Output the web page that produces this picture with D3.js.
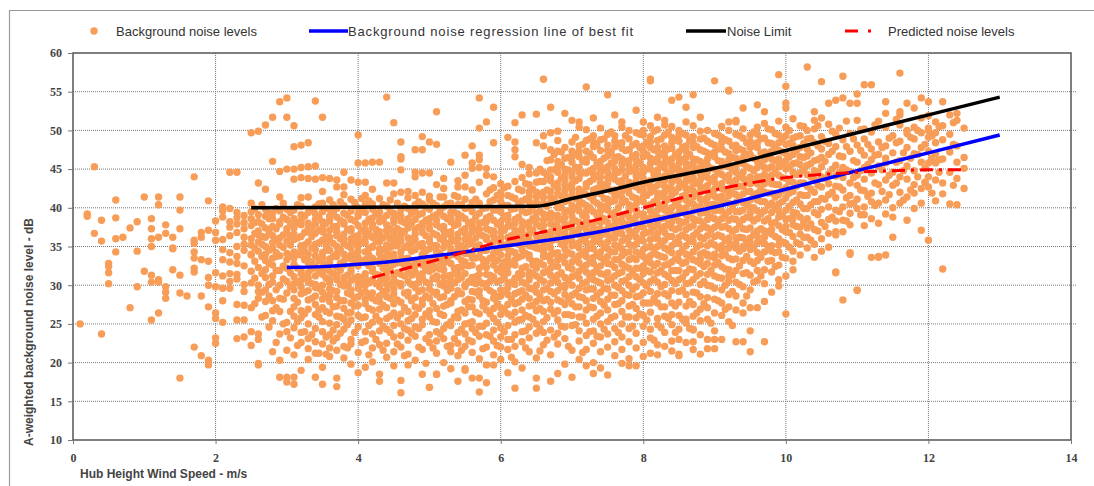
<!DOCTYPE html>
<html>
<head>
<meta charset="utf-8">
<script src="https://cdn.jsdelivr.net/npm/d3@7"></script>
<style>
  body { margin: 0; background: #fff; }
  svg { display: block; }
</style>
</head>
<body>
<script>
// scatter: each entry is [wind speed, "noise levels at that speed"]
const noiseColumns = [
  [0.1, "25.0"], [0.2, "39.2 38.9"], [0.3, "45.3 36.7"], [0.4, "23.7 38.4 35.7"],
  [0.5, "32.4 31.6 30.2 32.8"], [0.6, "38.7 34.3 36.0 41.0"], [0.7, "36.2"], [0.8, "37.4 27.1"],
  [0.9, "38.2 34.4 29.8"], [1.0, "41.4 31.8"], [1.1, "38.6 36.0 37.3 35.0 31.3 30.4 25.5"],
  [1.2, "41.4 40.4 36.2 30.7 26.4 30.4"], [1.3, "37.8 36.7 28.3 29.8 29.1"], [1.4, "36.2 34.7 34.8 32.0"],
  [1.5, "31.3 39.7 41.4 37.3 29.0 18.0"], [1.6, "28.6"], [1.7, "44.0 35.8 34.3 33.5 31.7 32.2 35.4 22.0"],
  [1.8, "36.8 36.2 33.3 20.9 28.6"], [1.9, "37.1 31.0 33.1 40.9 20.3 19.7 27.2 30.0"],
  [2.0, "38.3 36.8 35.8 31.6 26.4 25.7 22.5 23.2 29.8"],
  [2.1, "29.6 28.0 25.2 33.3 35.9 38.8 39.6 31.2 34.6 40.1"],
  [2.2, "29.6 37.5 36.4 33.0 31.5 39.9 44.6 30.5 34.2 38.2"],
  [2.3, "27.5 25.5 23.1 44.6 35.0 36.8 38.7 32.8 30.8 33.7 37.9 39.4 31.4"],
  [2.4, "25.5 23.3 27.4 38.1 36.2 34.5 32.5 30.1 39.0 35.3 37.3 29.2"],
  [2.5, "24.0 27.1 22.2 49.7 40.6 38.6 36.0 33.9 31.8 35.2 37.7 30.3 39.5 34.0"],
  [2.6, "49.9 28.3 29.2 23.7 23.0 19.9 19.7 43.2 38.2 36.5 34.4 32.3 30.0 37.0 35.6 39.1"],
  [2.7, "50.7 42.4 29.4 39.8 37.4 35.0 33.2 31.0 36.2 38.9 32.0 34.0 27.9 26.1"],
  [2.8, "46.0 21.4 25.4 26.7 28.0 38.6 36.4 34.8 32.6 30.4 37.6 33.5 39.3 35.5 31.2 51.7"],
  [2.9, "53.7 44.7 41.4 20.3 18.1 23.7 28.3 38.2 36.1 33.8 31.9 30.0 35.2 37.9 39.6 26.6"],
  [3.0, "54.2 51.7 45.0 17.5 21.6 24.0 25.2 29.0 38.5 36.8 34.1 32.2 30.5 35.7 33.3 37.3 39.8 18.1"],
  [3.1, "50.6 47.9 45.0 43.7 26.0 17.2 18.1 21.0 24.5 27.2 29.4 31.1 32.7 34.3 35.9 37.4 38.6 39.7 36.6 33.5 30.2 28.3"],
  [3.2, "48.1 45.2 43.9 41.3 19.0 22.6 25.8 28.9 30.6 32.0 33.9 35.1 36.3 37.8 39.1 40.2 31.5 34.7 38.3 26.7 29.8 23.9"],
  [3.3, "48.4 45.3 43.8 41.4 20.4 23.1 26.9 28.1 30.4 31.6 32.9 34.0 35.6 36.9 38.0 39.4 37.3 33.2 30.9 25.0 29.3 21.8"],
  [3.4, "53.8 45.4 43.7 18.1 21.2 24.4 27.5 29.7 31.2 32.4 33.8 35.3 36.7 37.9 39.2 40.1 38.5 34.6 30.1 26.2 28.6 22.7"],
  [3.5, "51.7 43.9 17.2 19.4 22.4 25.3 28.2 30.0 31.4 33.0 34.2 35.8 36.9 38.2 39.5 37.4 33.6 31.9 27.1 24.0 29.1 40.6 42.1"],
  [3.6, "43.8 41.0 20.8 23.6 26.4 28.7 30.3 31.8 32.9 34.5 35.7 37.1 38.4 39.8 36.2 33.4 30.8 27.9 25.1 29.5 21.9 38.9"],
  [3.7, "43.6 18.0 16.9 42.7 21.6 24.9 27.3 29.2 30.7 32.3 33.7 35.0 36.4 37.6 38.8 39.9 34.1 31.3 28.4 26.0 36.9 23.2"],
  [3.8, "44.6 42.7 41.7 22.1 25.6 28.0 29.9 31.0 32.6 34.0 35.4 36.6 37.9 39.3 40.3 33.1 30.5 27.0 24.3 38.1 35.9 20.6"],
  [3.9, "43.6 41.1 19.8 23.0 26.5 28.8 30.6 32.1 33.4 34.8 36.0 37.3 38.5 39.6 35.4 31.7 29.4 25.5 22.4 37.0 33.9 27.7"],
  [4.0, "49.4 18.7 45.8 43.3 21.3 24.6 27.4 29.6 31.1 32.5 33.6 35.1 36.4 37.7 38.9 40.0 34.4 30.3 28.5 26.1 39.2 35.8 32.8"],
  [4.1, "19.4 45.8 43.3 22.8 25.9 28.2 30.0 31.5 32.9 34.3 35.5 36.8 38.0 39.4 40.4 37.2 33.3 30.9 27.6 24.0 36.1 29.2 41.6"],
  [4.2, "45.9 42.4 20.1 23.7 26.8 29.0 30.7 32.2 33.5 34.9 36.2 37.5 38.7 39.8 35.0 31.8 28.3 25.2 37.9 33.0 21.9 40.5"],
  [4.3, "45.9 18.5 17.6 22.3 25.4 27.9 29.8 31.3 32.8 34.1 35.6 36.9 38.2 39.5 36.3 33.2 30.4 26.9 24.1 38.8 34.7 41.2 28.6"],
  [4.4, "54.3 43.2 20.7 24.3 27.1 29.3 30.9 32.4 33.8 35.2 36.5 37.8 39.0 40.2 34.6 31.6 28.5 25.7 22.5 37.1 33.1 30.1"],
  [4.5, "51.0 43.2 21.4 24.8 27.6 29.5 31.2 32.7 34.0 35.5 36.7 38.1 39.3 36.0 33.4 30.6 26.4 23.3 38.6 35.1 28.9 41.8 19.6"],
  [4.6, "48.5 46.6 46.3 44.9 17.7 16.1 22.0 25.0 27.8 29.9 31.4 32.9 34.3 35.7 37.0 38.3 39.7 36.4 33.6 30.2 26.3 23.5 38.9 42.0"],
  [4.7, "42.1 19.7 21.1 24.2 26.6 28.6 30.5 32.0 33.5 34.9 36.1 37.4 38.6 39.9 35.2 31.9 29.1 25.4 22.9 37.6 33.0 41.3"],
  [4.8, "47.5 44.6 44.0 41.6 20.3 23.4 26.2 28.4 30.1 31.7 33.2 34.6 35.9 37.2 38.5 39.6 36.6 32.5 29.7 27.2 24.6 40.4"],
  [4.9, "18.5 49.2 47.5 44.5 42.0 21.7 24.9 27.5 29.4 31.0 32.6 34.0 35.4 36.8 38.0 39.3 40.5 34.9 31.5 28.1 25.6 37.5 33.7"],
  [5.0, "48.5 44.5 16.8 16.8 41.5 22.6 25.9 28.3 30.2 31.8 33.3 34.7 36.0 37.3 38.6 39.8 35.6 32.4 29.5 26.7 23.6 37.9 41.0"],
  [5.1, "48.2 52.4 18.5 18.5 43.0 21.2 24.0 27.0 29.1 30.8 32.3 33.8 35.1 36.5 37.8 39.1 40.3 34.4 31.2 28.8 25.2 38.4 22.8"],
  [5.2, "43.8 41.4 20.0 23.1 26.1 28.5 30.4 32.0 33.5 34.9 36.3 37.6 38.9 40.1 35.7 32.8 29.9 27.3 24.4 37.1 31.1 42.5"],
  [5.3, "45.9 19.2 22.2 25.3 27.7 29.6 31.3 32.8 34.2 35.6 36.9 38.2 39.4 40.6 33.9 30.6 28.0 24.8 36.4 21.4 38.8 34.7"],
  [5.4, "42.7 41.4 17.6 20.9 23.9 26.6 28.9 30.7 32.3 33.7 35.2 36.6 37.9 39.2 40.4 34.5 31.6 29.3 25.8 22.5 38.4 36.0 43.5"],
  [5.5, "46.8 44.2 42.7 19.2 19.0 22.1 25.0 27.9 29.8 31.5 33.0 34.5 35.9 37.3 38.6 39.9 36.7 32.6 30.1 26.4 23.7 41.1 34.1"],
  [5.6, "48.0 45.8 45.1 18.0 21.3 24.4 27.2 29.2 31.0 32.6 34.1 35.5 36.9 38.2 39.5 40.7 33.5 30.4 28.1 25.3 37.6 22.7 42.3"],
  [5.7, "54.2 50.3 46.8 46.2 45.2 18.0 16.2 20.5 23.4 26.3 28.6 30.5 32.2 33.7 35.2 36.6 38.0 39.3 40.6 34.6 31.4 29.3 24.7 37.2 43.3"],
  [5.8, "51.1 45.1 44.2 17.4 19.7 22.0 25.1 27.8 29.7 31.4 33.0 34.5 35.9 37.3 38.7 40.0 36.2 32.3 30.2 26.8 23.6 41.8 38.2"],
  [5.9, "53.0 48.4 44.0 19.7 21.0 24.2 27.0 29.0 30.9 32.6 34.1 35.6 37.0 38.4 39.7 41.0 33.4 31.1 28.3 25.7 36.4 22.8 42.6"],
  [6.0, "43.1 41.5 20.4 23.3 26.2 28.6 30.6 32.3 33.9 35.4 36.8 38.2 39.5 40.8 34.8 31.7 29.4 27.1 24.5 37.6 22.0 42.0 36.1"],
  [6.1, "49.1 18.7 21.7 24.8 27.5 29.7 31.6 33.2 34.7 36.2 37.6 39.0 40.3 41.6 35.4 32.4 30.3 26.3 23.0 38.4 42.8 33.8 28.8"],
  [6.2, "48.5 51.0 16.7 47.5 46.6 20.1 23.6 26.5 28.9 30.9 32.6 34.2 35.7 37.1 38.5 39.9 41.2 36.4 33.3 30.1 27.6 25.2 43.4 38.0 22.1"],
  [6.3, "52.0 45.6 19.3 22.7 25.6 28.2 30.4 32.2 33.8 35.3 36.8 38.2 39.6 40.9 42.2 34.6 31.4 29.3 26.8 24.0 37.5 43.9 35.9"],
  [6.4, "45.2 44.4 21.4 24.6 27.3 29.6 31.7 33.5 35.1 36.6 38.1 39.5 40.8 42.1 33.9 30.7 28.3 25.9 23.2 37.4 41.5 35.8 31.2 43.0"],
  [6.5, "52.1 48.4 18.0 16.7 20.6 23.8 26.7 29.1 31.2 33.1 34.8 36.4 37.9 39.3 40.7 42.0 43.3 35.6 32.2 30.0 27.9 25.0 38.6 41.4 44.5"],
  [6.6, "56.6 48.0 49.3 22.3 25.3 28.0 30.5 32.6 34.4 36.1 37.7 39.2 40.6 42.0 43.4 35.3 31.6 29.4 26.6 23.9 38.4 41.3 44.6 33.7 36.9"],
  [6.7, "53.0 49.7 17.6 21.0 24.2 26.9 29.2 31.3 33.1 34.8 36.4 37.9 39.3 40.7 42.1 43.5 44.9 46.2 35.6 32.2 30.3 27.8 38.6 41.4 44.0 47.5 36.9 33.9"],
  [6.8, "49.9 48.7 18.6 22.4 25.5 28.1 30.4 32.4 34.2 35.9 37.5 39.0 40.4 41.8 43.2 44.6 46.0 47.3 36.7 33.3 31.3 26.7 23.8 38.3 42.5 45.3 29.3 40.0"],
  [6.9, "52.2 19.8 23.1 26.2 28.8 31.0 32.9 34.7 36.3 37.9 39.4 40.8 42.2 43.6 45.0 46.4 35.5 33.8 30.0 27.5 24.6 38.7 41.5 44.3 47.8 36.9 29.7 42.9"],
  [7.0, "51.3 18.1 21.6 24.8 27.6 30.0 32.1 34.0 35.7 37.3 38.9 40.3 41.7 43.1 44.5 45.9 47.3 36.5 33.0 31.1 28.7 26.1 39.6 42.4 46.6 35.1 38.1 44.0 48.5"],
  [7.1, "51.1 50.4 22.8 25.9 28.5 30.9 32.9 34.8 36.5 38.1 39.6 41.0 42.4 43.8 45.2 46.6 48.0 35.5 33.8 31.8 29.6 27.2 24.1 40.3 37.3 44.6 47.3 42.0 20.4"],
  [7.2, "55.6 19.6 23.5 26.8 29.4 31.7 33.7 35.5 37.2 38.8 40.3 41.7 43.1 44.5 45.9 47.3 48.7 36.3 34.5 32.6 30.4 28.0 25.1 39.5 42.7 46.3 50.1 38.2 21.7"],
  [7.3, "20.0 18.6 22.5 25.6 28.3 30.7 32.8 34.7 36.4 38.0 39.5 40.9 42.3 43.7 45.1 46.5 47.9 49.3 35.6 33.6 31.6 29.5 27.1 24.1 37.3 41.6 44.4 48.5 51.6"],
  [7.4, "19.3 23.3 26.4 29.1 31.5 33.6 35.5 37.2 38.8 40.3 41.8 43.2 44.6 46.0 47.4 48.8 36.4 34.3 32.5 30.3 27.9 25.0 39.6 42.5 45.3 50.3 38.1 21.4 44.0"],
  [7.5, "54.6 18.4 22.0 25.3 28.2 30.6 32.8 34.7 36.5 38.1 39.7 41.1 42.5 43.9 45.3 46.7 48.1 49.5 35.6 33.7 31.6 29.5 26.8 23.7 40.4 43.2 37.3 44.6 47.4"],
  [7.6, "52.0 20.9 24.4 27.5 30.0 32.3 34.3 36.1 37.8 39.4 40.9 42.3 43.7 45.1 46.5 47.9 49.3 35.2 33.3 31.2 28.7 26.0 38.6 41.6 44.4 48.6 36.9 22.7 46.0"],
  [7.7, "51.1 50.4 48.4 19.9 23.3 26.6 29.3 31.7 33.8 35.7 37.5 39.1 40.6 42.1 43.5 44.9 46.3 47.7 36.6 34.7 32.7 30.5 28.0 25.0 38.3 41.3 45.6 43.0 21.7"],
  [7.8, "47.5 20.5 19.6 22.7 25.9 28.7 31.1 33.3 35.3 37.1 38.8 40.4 41.9 43.3 44.7 46.1 47.5 48.9 36.2 34.3 32.2 30.0 27.3 24.4 39.6 42.6 45.4 37.9 50.0"],
  [7.9, "52.6 19.6 23.8 27.0 29.8 32.2 34.3 36.2 38.0 39.7 41.2 42.7 44.1 45.5 46.9 48.3 49.7 35.3 33.3 31.1 28.5 25.8 37.1 40.5 43.4 46.2 38.9 21.9 44.8"],
  [8.0, "51.1 50.0 22.6 26.1 29.0 31.5 33.7 35.7 37.5 39.2 40.8 42.3 43.8 45.2 46.6 48.0 49.4 36.6 34.6 32.5 30.3 27.7 24.7 41.5 38.4 44.6 47.3 43.0 20.8"],
  [8.1, "56.6 56.4 21.2 24.3 27.7 30.5 32.9 35.0 36.9 38.7 40.4 42.0 43.5 45.0 46.4 47.8 49.2 50.6 35.9 33.8 31.7 29.2 26.5 39.6 42.7 45.7 48.5 37.8 23.2"],
  [8.2, "51.7 21.0 22.3 25.7 28.9 31.6 33.9 36.0 37.9 39.7 41.3 42.9 44.4 45.9 47.3 48.7 50.1 35.0 32.8 30.4 27.7 24.9 38.8 41.9 44.9 47.8 36.7 40.6 46.4"],
  [8.3, "51.3 23.9 27.2 30.1 32.6 34.8 36.8 38.7 40.4 42.0 43.6 45.1 46.6 48.0 49.4 35.8 33.6 31.4 28.9 26.0 39.7 42.8 45.8 37.6 44.1 22.1 50.7 41.2 47.2"],
  [8.4, "53.9 22.8 26.2 29.3 31.9 34.2 36.3 38.2 40.0 41.7 43.3 44.8 46.3 47.7 49.1 50.5 35.1 33.0 30.6 27.7 24.9 39.1 42.4 45.5 48.4 37.4 44.0 21.5"],
  [8.5, "54.3 20.9 21.1 24.3 27.8 30.7 33.2 35.4 37.4 39.3 41.0 42.6 44.2 45.7 47.2 48.6 50.0 36.2 34.1 31.9 29.2 26.1 40.1 43.4 46.4 38.3 44.9 49.4 23.0"],
  [8.6, "53.0 25.1 25.6 28.8 31.6 34.0 36.2 38.2 40.0 41.7 43.4 45.0 46.5 48.0 49.4 35.1 33.0 30.2 27.3 39.1 42.5 45.7 37.2 44.1 47.3 22.6 41.0 51.1"],
  [8.7, "54.6 21.7 22.7 24.2 24.3 27.5 30.7 33.3 35.6 37.7 39.6 41.4 43.1 44.7 46.3 47.8 49.2 36.4 34.3 32.0 29.1 26.0 40.5 43.9 38.6 45.5 42.2 50.6 48.4"],
  [8.8, "51.7 21.1 23.6 26.9 30.1 32.8 35.2 37.3 39.3 41.1 42.8 44.4 46.0 47.5 48.9 36.2 34.0 31.5 28.5 25.4 40.2 43.6 38.3 45.2 42.0 33.4 49.9"],
  [8.9, "23.0 25.6 21.8 28.4 31.4 34.0 36.4 38.5 40.4 42.2 43.9 45.5 47.1 48.6 50.0 35.1 32.8 30.0 27.1 39.4 42.9 37.4 44.7 41.3 46.3 33.8"],
  [9.0, "56.4 24.1 26.4 23.0 21.8 29.6 32.6 35.2 37.5 39.6 41.5 43.3 45.0 46.6 48.1 49.6 36.3 34.0 31.2 28.2 40.5 44.0 38.6 42.4 47.2 33.5"],
  [9.1, "23.0 27.7 30.9 33.8 36.3 38.6 40.6 42.5 44.3 46.0 47.6 49.1 35.1 32.4 29.4 26.1 39.6 43.1 37.5 45.3 41.5 48.4 34.6 50.5"],
  [9.2, "55.1 55.2 25.3 28.8 32.0 34.8 37.3 39.5 41.6 43.5 45.3 47.0 48.6 36.1 33.5 30.5 27.2 40.6 44.2 38.4 46.2 42.4 50.0 35.6 31.2 51.1"],
  [9.3, "51.1 51.3 22.7 26.8 30.4 33.4 36.1 38.5 40.7 42.7 44.6 46.4 48.1 37.2 34.8 31.9 28.6 41.7 45.4 39.5 43.6 47.4 35.4 49.5"],
  [9.4, "52.9 22.7 26.4 27.7 31.5 34.7 37.3 39.7 41.8 43.8 45.7 47.4 49.0 36.1 33.2 29.8 40.7 44.6 38.5 42.8 46.5 35.0 50.2"],
  [9.5, "49.4 21.4 24.1 27.1 29.4 33.1 36.1 38.7 41.0 43.1 45.1 46.9 48.6 37.4 34.6 31.3 40.0 44.0 39.3 42.1 47.8 35.5"],
  [9.6, "53.3 50.4 27.1 30.6 34.2 37.0 39.6 41.9 44.0 46.0 47.8 49.5 36.3 33.2 41.0 45.2 38.6 43.1 35.5 31.9 48.4"],
  [9.7, "52.4 22.7 27.9 32.0 35.4 38.3 40.8 43.1 45.2 47.2 49.0 37.0 34.3 30.2 42.0 46.2 39.6 44.3 36.2 50.9"],
  [9.8, "29.1 33.2 36.6 39.4 41.9 44.2 46.3 48.3 38.0 35.1 31.7 43.1 47.3 40.6 45.3 34.4 50.1 37.2"],
  [9.9, "57.2 29.9 30.7 34.3 37.7 40.5 43.0 45.3 47.4 49.4 38.8 36.0 32.6 44.2 48.4 41.7 46.3 35.2 51.2 39.6"],
  [10.0, "55.7 53.5 52.9 26.3 31.2 35.4 38.5 41.3 43.8 46.1 48.2 39.7 36.9 33.5 45.0 49.3 42.6 47.0 37.6 50.4"],
  [10.1, "32.0 36.3 39.4 42.1 44.6 46.9 49.0 40.7 37.8 34.4 45.7 48.1 43.3 51.5 38.6 33.1"],
  [10.2, "33.9 37.5 40.5 43.2 45.6 47.8 41.7 38.8 35.3 44.5 49.3 46.6 36.6 50.6"],
  [10.3, "58.2 34.8 38.6 41.6 44.3 46.7 48.9 42.8 39.9 36.2 45.5 50.0 37.4 47.6"],
  [10.4, "52.4 51.3 33.6 37.2 40.8 43.6 46.1 48.4 39.4 35.3 44.8 42.0 50.2"],
  [10.5, "51.6 56.3 36.0 39.8 42.7 45.3 47.6 38.1 41.2 44.0 49.2 34.4 46.5"],
  [10.6, "53.5 34.9 38.5 41.7 44.4 46.9 40.1 43.1 48.3 36.7 50.8"],
  [10.7, "53.9 36.9 36.5 31.7 31.6 39.7 42.8 45.5 47.9 41.3 44.1 49.5 38.3"],
  [10.8, "54.2 57.0 28.1 40.1 43.9 46.6 38.4 42.3 45.2 48.8 36.9"],
  [10.9, "53.5 39.3 34.2 34.0 41.6 44.7 47.3 40.5 43.2 49.6 37.8"],
  [11.0, "53.5 54.7 29.3 29.4 42.9 45.9 39.9 44.2 48.1 41.1 51.3"],
  [11.1, "55.9 40.1 39.1 43.7 46.8 42.2 45.2 48.9 37.7 50.2"],
  [11.2, "41.9 55.9 33.6 44.5 47.6 40.8 46.2 38.6 49.8"],
  [11.3, "40.6 33.7 33.6 45.4 43.0 48.5 38.0 51.2 46.9"],
  [11.4, "45.8 41.0 53.7 52.2 33.9 43.6 48.0 39.2 50.4 46.4"],
  [11.5, "40.0 36.2 42.9 47.1 44.6 49.3 38.8"],
  [11.6, "52.0 52.4 57.4 44.0 42.0 48.6 46.1 40.6 50.7"],
  [11.7, "53.5 50.0 38.4 41.4 45.4 43.7 47.8 49.6"],
  [11.8, "52.9 50.4 41.9 44.8 47.0 39.9 48.9 43.0"],
  [11.9, "37.1 49.7 54.2 42.5 45.9 47.8 40.6 51.6"],
  [12.0, "53.7 50.3 50.0 49.1 45.8 44.0 35.8 47.3 42.7 51.9"],
  [12.1, "48.4 49.7 51.1 45.8 43.6 47.0 40.9"],
  [12.2, "53.7 43.2 32.1 46.3 48.8 50.6 41.8"],
  [12.3, "52.0 40.5 44.6 47.2 49.5"],
  [12.4, "51.3 43.8 40.4 52.2 45.9 48.0"],
  [12.5, "45.1 46.5 50.3 42.5"]
];

// more readings from the dense core, between the columns above
const noiseColumnsMid = [
  [2.55, "30.9 33.1 36.7 38.1 39.9 27.6 34.8"],
  [2.65, "31.5 33.7 35.3 37.9 40.4 25.9 29.1 36.3"],
  [2.75, "30.1 32.8 34.5 36.9 38.6 28.6 24.6 39.3"],
  [2.85, "29.4 31.9 33.7 35.9 37.3 39.9 27.1 22.6 34.2"],
  [2.95, "30.8 32.5 34.9 36.5 38.8 40.6 28.2 25.0"],
  [3.05, "29.8 31.6 33.8 35.2 37.9 39.4 26.6 23.2 36.3"],
  [3.15, "30.5 32.2 34.0 36.1 38.1 40.4 27.8 25.3 22.2"],
  [3.25, "29.1 31.0 33.3 35.2 36.8 38.9 26.3 24.0 34.4"],
  [3.35, "30.2 32.1 34.8 36.3 37.4 39.7 28.3 23.6 33.0"],
  [3.45, "29.6 31.8 33.2 35.5 37.1 38.8 26.8 25.9 21.2 40.5"],
  [3.55, "28.6 30.9 32.4 34.5 36.3 38.0 39.9 26.6 23.3 21.1 35.2"],
  [3.65, "29.3 31.5 33.7 35.4 37.6 39.3 27.2 24.2 22.8 40.4"],
  [3.75, "28.0 30.1 32.8 34.6 36.0 38.4 40.8 25.9 23.8 31.9"],
  [3.85, "29.0 31.3 33.6 35.1 37.2 39.0 26.4 21.9 24.9 30.0"],
  [3.95, "28.3 30.9 32.9 34.0 36.3 38.3 40.7 27.3 23.9 35.4"],
  [4.05, "29.0 31.0 33.0 35.5 37.1 39.5 25.8 22.6 30.1 41.2"],
  [4.15, "28.8 30.3 32.5 34.7 36.7 38.5 40.9 27.0 24.8 21.0 33.9"],
  [4.25, "28.0 31.4 33.1 35.6 37.2 39.2 26.0 23.0 30.2 36.5"],
  [4.35, "29.2 30.8 32.2 34.6 36.1 38.4 40.4 27.4 24.7 21.6 33.5"],
  [4.45, "28.3 30.1 32.0 33.9 36.0 37.3 39.5 26.0 23.9 34.9 41.0"],
  [4.55, "28.1 30.3 32.9 35.1 37.3 39.0 25.8 22.4 31.6 36.2 40.6"],
  [4.65, "29.0 31.2 33.4 34.9 36.9 38.1 40.2 27.1 24.4 20.9 32.6"],
  [4.75, "28.0 30.1 32.4 34.4 36.0 38.0 39.3 25.7 23.8 31.3 35.4"],
  [4.85, "29.2 31.2 33.2 35.2 37.5 39.1 27.0 24.4 22.0 30.4 40.8"],
  [4.95, "28.6 30.4 32.0 34.4 36.4 38.4 40.1 26.3 23.1 33.2 19.9"],
  [5.05, "29.1 30.9 33.0 35.1 36.7 38.9 27.6 25.3 21.9 32.1 40.6"],
  [5.15, "28.4 30.1 32.1 34.1 36.0 37.5 39.6 26.3 23.7 33.1 41.4"],
  [5.25, "29.3 31.2 33.2 35.4 36.8 38.6 40.5 27.5 24.9 22.1 30.2"],
  [5.35, "28.5 30.3 32.2 34.0 35.8 37.7 39.4 25.9 23.1 31.5 41.6"],
  [5.45, "28.9 31.0 33.2 35.1 37.0 38.9 26.8 24.3 21.6 32.3 40.4"],
  [5.55, "28.2 30.5 32.5 34.1 36.2 38.0 40.0 27.2 25.1 22.9 35.3"],
  [5.65, "29.1 31.1 33.5 35.0 37.2 38.8 41.1 26.5 23.9 30.2 36.1"],
  [5.75, "28.0 30.2 32.5 34.5 36.4 38.1 39.9 27.3 24.7 21.8 33.3"],
  [5.85, "29.3 31.3 33.5 35.2 37.1 38.9 40.8 26.3 23.4 30.5 42.3"],
  [5.95, "28.5 30.4 32.0 34.4 35.9 37.9 39.7 27.6 25.2 22.2 33.2 41.6"],
  [6.05, "29.3 31.0 33.0 35.0 37.1 38.9 40.3 26.9 24.0 32.0 42.6"],
  [6.15, "28.2 30.4 32.8 34.4 36.4 37.7 39.8 41.4 26.0 23.0 20.7 35.5"],
  [6.25, "29.1 31.5 33.6 35.3 36.9 38.8 40.5 42.4 27.8 25.5 31.0"],
  [6.35, "28.7 30.2 32.4 34.1 36.2 37.9 39.4 41.1 26.1 24.1 21.9 43.1"],
  [6.45, "29.5 31.5 33.1 35.0 37.1 38.6 40.1 42.4 27.4 25.6 32.6"],
  [6.55, "28.6 30.8 32.9 34.7 36.0 37.6 39.6 41.6 43.4 27.0 24.4 21.5 45.0"],
  [6.65, "29.6 31.8 33.7 35.0 36.6 38.8 40.2 42.3 44.2 28.2 25.8 22.9 46.1"],
  [6.75, "28.9 30.7 32.5 34.1 35.9 37.7 39.0 41.1 42.9 44.9 26.3 23.3 46.9"],
  [6.85, "29.8 31.6 33.5 35.3 36.9 38.5 40.0 41.5 43.8 45.6 27.9 24.7 47.2"],
  [6.95, "30.6 32.3 34.2 35.9 37.6 39.6 41.0 42.7 44.9 46.5 28.2 26.2 22.1"],
  [7.05, "29.0 31.3 33.3 35.2 36.8 38.3 39.9 41.2 43.5 45.2 46.9 27.2 24.9 49.1"],
  [7.15, "30.2 32.3 34.1 35.9 37.7 39.0 40.6 42.0 44.5 46.0 48.2 28.4 25.9 21.3"],
  [7.25, "29.5 31.1 33.0 34.8 36.6 38.0 40.0 41.4 43.4 44.8 47.0 27.2 24.0 48.9"],
  [7.35, "30.5 32.2 34.0 35.7 37.2 39.0 40.6 42.5 44.0 45.8 48.1 28.7 26.0 23.4"],
  [7.45, "29.6 31.4 33.2 34.9 36.8 38.6 39.9 41.2 43.0 44.9 46.4 48.9 27.4 24.3"],
  [7.55, "30.8 32.7 34.3 36.1 37.5 39.1 40.8 42.2 43.9 45.8 47.2 28.7 25.8 49.8"],
  [7.65, "29.7 31.5 33.3 35.0 36.8 38.3 40.0 41.6 43.4 44.6 46.6 48.3 27.6 23.9"],
  [7.75, "30.6 32.4 34.2 36.0 37.9 39.2 40.9 42.5 44.1 46.0 47.4 49.3 28.8 25.9"],
  [7.85, "29.4 31.6 33.5 35.1 36.7 38.4 40.1 41.4 43.0 44.8 46.7 48.1 27.5 24.7"],
  [7.95, "30.7 32.2 34.0 35.8 37.6 39.2 40.9 42.3 44.2 45.8 47.8 49.5 28.6 26.3"],
  [8.05, "29.9 31.9 33.2 34.9 36.8 38.6 40.2 41.6 43.2 45.0 46.9 48.5 27.7 25.5"],
  [8.15, "30.8 32.5 34.4 36.1 37.5 39.0 40.8 42.6 44.3 46.0 47.5 49.9 28.3 22.9"],
  [8.25, "29.8 31.9 33.7 35.5 37.3 38.6 40.3 41.8 43.6 45.4 47.0 48.9 27.2 24.5"],
  [8.35, "31.1 32.7 34.5 36.3 37.9 39.5 41.1 42.5 44.4 46.1 47.6 49.8 28.6 25.7"],
  [8.45, "30.2 31.9 33.4 35.5 37.2 38.8 40.5 42.0 43.9 45.0 46.9 48.8 27.3 23.9"],
  [8.55, "31.0 32.8 34.6 36.5 38.1 39.8 41.5 43.0 44.6 46.2 47.8 49.6 29.4 25.6"],
  [8.65, "30.3 32.1 33.8 35.7 37.5 39.0 40.6 42.4 43.7 45.5 46.9 48.7 27.9 24.4"],
  [8.75, "31.2 33.1 34.9 36.8 38.4 40.1 41.8 43.2 44.9 46.2 47.9 29.0 26.4"],
  [8.85, "30.5 32.4 34.2 36.0 37.7 39.4 41.0 42.5 44.1 45.7 47.3 49.0 27.6"],
  [8.95, "31.9 33.7 35.5 37.1 38.8 40.4 42.0 43.5 45.1 46.8 48.3 29.9 25.1"],
  [9.05, "31.0 32.9 34.8 36.5 38.1 39.7 41.3 42.9 44.5 46.1 47.6 49.4 28.0"],
  [9.15, "32.1 34.0 35.8 37.6 39.1 40.9 42.3 43.9 45.6 47.2 48.8 30.0 26.9"],
  [9.25, "31.3 33.3 35.2 36.9 38.6 40.2 41.9 43.2 44.9 46.5 48.0 29.2 24.8"],
  [9.35, "32.5 34.4 36.2 37.9 39.5 41.2 42.8 44.1 45.9 47.6 49.3 30.1"],
  [9.45, "31.6 33.7 35.5 37.2 38.8 40.4 42.1 43.5 45.3 46.9 48.4 28.6"],
  [9.55, "32.8 34.8 36.6 38.3 40.0 41.6 43.3 44.8 46.4 48.0 49.8 30.4"],
  [9.65, "33.6 35.6 37.3 39.2 40.8 42.4 44.0 45.6 47.1 48.9 31.2"],
  [9.75, "33.1 35.0 36.9 38.6 40.3 41.9 43.7 45.1 46.7 48.4 50.2"],
  [9.85, "34.2 36.3 38.1 39.9 41.4 43.0 44.6 46.1 47.8 49.6 32.4"],
  [9.95, "33.6 35.6 37.2 39.0 40.8 42.2 43.9 45.6 47.2 48.9"],
  [10.05, "34.9 36.8 38.6 40.2 41.9 43.4 45.3 46.6 48.3 50.0"],
  [10.15, "35.5 37.6 39.3 41.0 42.8 44.3 45.8 47.4 49.2"],
  [10.25, "36.2 38.1 39.9 41.6 43.2 44.9 46.5 48.3 50.5"],
  [10.35, "35.8 37.9 40.4 42.4 44.0 45.7 47.1 49.0"],
  [10.45, "37.0 39.1 40.8 42.9 44.6 46.2 48.0 50.6"],
  [10.55, "37.6 41.1 43.8 46.0 48.6"],
  [10.65, "38.8 42.0 45.0 47.3 49.9"],
  [10.75, "39.5 42.7 44.6 46.7 50.3"],
  [10.85, "38.3 41.3 44.9 47.9 51.2"],
  [10.95, "40.6 43.9 46.1 48.9"],
  [11.05, "39.1 42.3 44.8 47.4 50.1"],
  [11.15, "41.5 45.6 48.2"],
  [11.25, "40.3 43.2 46.8 50.7"],
  [11.35, "42.1 44.9 47.8"],
  [11.45, "41.7 44.2 49.0"],
  [11.55, "43.2 45.9 48.4 51.4"],
  [11.65, "41.0 44.8 47.1"],
  [11.75, "42.3 46.4 49.1"],
  [11.85, "44.0 46.9 50.0"],
  [11.95, "43.3 45.1 48.2"],
  [12.05, "41.9 46.4 49.3"],
  [12.15, "44.6 46.2 50.5"],
  [12.35, "42.9 48.2 51.0"]
];

// regression line of best fit
const fitSpeed = [3, 3.5, 4, 4.5, 5, 5.5, 6, 6.5, 7, 7.5, 8, 8.5, 9, 10, 11, 12, 13];
const fitLevel = [32.3, 32.4, 32.7, 33.1, 33.7, 34.3, 35.0, 35.6, 36.3, 37.1, 38.1, 39.1, 40.1, 42.4, 44.8, 47.1, 49.4];

// noise limit
const limitSpeed = [2.5, 6.5, 7, 7.5, 8, 9, 10, 11, 12, 13];
const limitLevel = [40.0, 40.2, 41.2, 42.2, 43.3, 45.1, 47.4, 49.7, 52.0, 54.3];

// predicted noise levels
const predSpeed = [4.2, 5, 5.5, 6, 6.5, 7, 7.5, 8, 8.5, 9, 9.5, 10, 10.5, 11, 11.5, 12, 12.5];
const predLevel = [31.0, 33.0, 34.3, 35.7, 36.7, 37.7, 38.8, 40.0, 41.2, 42.3, 43.2, 43.9, 44.3, 44.6, 44.8, 44.9, 44.9];

const xTicks = [0, 2, 4, 6, 8, 10, 12, 14];
const yTicks = [10, 15, 20, 25, 30, 35, 40, 45, 50, 55, 60];

const points = noiseColumns.concat(noiseColumnsMid)
  .flatMap(([x, ys]) => ys.split(" ").map(y => ({ x: x, y: +y })));
const zip = (xs, ys) => xs.map((x, i) => ({ x: x, y: ys[i] }));

const W = 1094, H = 486;
const margin = { top: 53, right: 23, bottom: 46, left: 73 };
const width = W - margin.left - margin.right;
const height = H - margin.top - margin.bottom;

const svg = d3.select("body").append("svg")
  .attr("width", W)
  .attr("height", H)
  .style("font-family", "'Liberation Sans', Arial, sans-serif");

// outer chart frame
svg.append("path")
  .attr("d", `M9.5,${H + 5}V10.5H${W + 5}`)
  .attr("fill", "none")
  .attr("stroke", "#9a9a9a")
  .attr("stroke-width", 1.2);

const g = svg.append("g")
  .attr("transform", `translate(${margin.left},${margin.top})`);

const xScale = d3.scaleLinear().domain([0, 14]).range([0, width]);
const yScale = d3.scaleLinear().domain([10, 60]).range([height, 0]);

// dotted grid
g.append("g")
  .selectAll("line")
  .data(yTicks.slice(1, -1))
  .join("line")
  .attr("x1", 0).attr("x2", width + 6)
  .attr("y1", d => yScale(d)).attr("y2", d => yScale(d))
  .attr("stroke", "#777")
  .attr("stroke-dasharray", "1,1");

g.append("g")
  .selectAll("line")
  .data(xTicks.slice(1, -1))
  .join("line")
  .attr("y1", 0).attr("y2", height)
  .attr("x1", d => xScale(d)).attr("x2", d => xScale(d))
  .attr("stroke", "#777")
  .attr("stroke-dasharray", "1,1");

// scatter
g.append("g")
  .selectAll("circle")
  .data(points)
  .join("circle")
  .attr("cx", d => xScale(d.x))
  .attr("cy", d => yScale(d.y))
  .attr("r", 3.7)
  .attr("fill", "#f79d58");

const line = d3.line().x(d => xScale(d.x)).y(d => yScale(d.y)).curve(d3.curveMonotoneX);

g.append("path")
  .datum(zip(limitSpeed, limitLevel))
  .attr("d", line)
  .attr("fill", "none")
  .attr("stroke", "#000")
  .attr("stroke-width", 3.5);

g.append("path")
  .datum(zip(fitSpeed, fitLevel))
  .attr("d", line)
  .attr("fill", "none")
  .attr("stroke", "#0000ff")
  .attr("stroke-width", 3.5);

g.append("path")
  .datum(zip(predSpeed, predLevel))
  .attr("d", line)
  .attr("fill", "none")
  .attr("stroke", "#ff0000")
  .attr("stroke-width", 3)
  .attr("stroke-dasharray", "13,6,3,6");

// plot border
g.append("rect")
  .attr("width", width)
  .attr("height", height)
  .attr("fill", "none")
  .attr("stroke", "#555")
  .attr("stroke-width", 1.5);

// axes
const yAxis = g.append("g")
  .call(d3.axisLeft(yScale).tickValues(yTicks).tickSize(5).tickPadding(6));
const xAxis = g.append("g")
  .attr("transform", `translate(0,${height})`)
  .call(d3.axisBottom(xScale).tickValues(xTicks).tickSize(4).tickPadding(9));

[xAxis, yAxis].forEach(ax => {
  ax.select(".domain").remove();
  ax.selectAll(".tick line").attr("stroke", "#777");
  ax.selectAll("text")
    .attr("fill", "#444")
    .style("font-family", "'Liberation Serif', 'DejaVu Serif', serif")
    .style("font-weight", "bold")
    .style("font-size", "12px");
});

// axis titles
svg.append("text")
  .attr("x", 80)
  .attr("y", 478)
  .attr("fill", "#444")
  .attr("font-weight", "bold")
  .attr("font-size", "12px")
  .text("Hub Height Wind Speed - m/s");

svg.append("text")
  .attr("transform", "translate(33,332) rotate(-90)")
  .attr("text-anchor", "middle")
  .attr("fill", "#444")
  .attr("font-weight", "bold")
  .attr("font-size", "12px")
  .text("A-weighted background noise level - dB");

// legend
const legend = svg.append("g").attr("transform", "translate(0,31)");
legend.append("circle").attr("cx", 94).attr("cy", 0).attr("r", 3.7).attr("fill", "#f79d58");
legend.append("text").attr("x", 116).attr("y", 4.5).text("Background noise levels");

legend.append("line").attr("x1", 309).attr("x2", 348).attr("stroke", "#0000ff").attr("stroke-width", 3.5);
legend.append("text").attr("x", 348).attr("y", 4.5)
  .attr("textLength", 285).attr("lengthAdjust", "spacing")
  .text("Background noise regression line of best fit");

legend.append("line").attr("x1", 686).attr("x2", 726).attr("stroke", "#000").attr("stroke-width", 3.5);
legend.append("text").attr("x", 727).attr("y", 4.5).text("Noise Limit");

legend.append("line").attr("x1", 845).attr("x2", 872).attr("stroke", "#ff0000").attr("stroke-width", 3)
  .attr("stroke-dasharray", "13,10,3,6");
legend.append("text").attr("x", 888).attr("y", 4.5).text("Predicted noise levels");

legend.selectAll("text").attr("font-size", "13px").attr("fill", "#333");
</script>
</body>
</html>
